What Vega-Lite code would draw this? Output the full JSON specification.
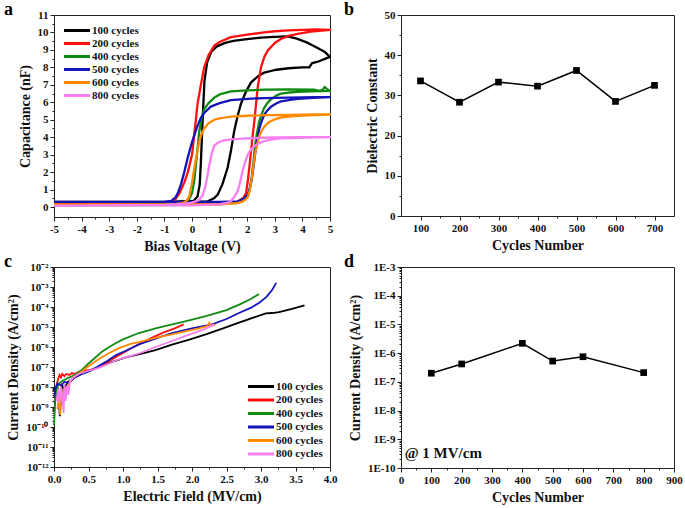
{
"$schema": "https://vega.github.io/schema/vega-lite/v6.json",
"background": "white",
"padding": {"left": 3, "top": 0, "right": 3, "bottom": 3},
"config": {
  "font": "Liberation Serif",
  "view": {"stroke": "#222", "strokeWidth": 1},
  "axis": {"labelFont": "Liberation Serif", "labelFontWeight": "bold", "labelFontSize": 11, "labelColor": "#111", "titleFont": "Liberation Serif", "titleFontWeight": "bold", "titleFontSize": 14, "titleColor": "#111", "domainColor": "#222", "tickColor": "#222", "grid": false, "labelPadding": 2, "labelFlush": false, "labelOverlap": false, "titlePadding": 5},
  "legend": {"title": null, "labelFont": "Liberation Serif", "labelFontWeight": "bold", "labelFontSize": 11, "labelColor": "#111", "rowPadding": 0, "padding": 0},
  "title": {"anchor": "start", "frame": "group", "offset": -9, "fontSize": 18, "font": "Liberation Serif", "fontWeight": "bold", "baseline": "alphabetic", "color": "#000"}
},
"columns": 2,
"spacing": {"row": 50, "column": 71},
"bounds": "flush",
"resolve": {"scale": {"x": "independent", "y": "independent", "color": "independent"}, "legend": {"color": "independent"}},
"concat": [
{
  "title": {"text": "a", "dx": -50, "dy": 1},
  "width": 276, "height": 202,
  "data": {"values": [
    {"s":"100 cycles","i":1,"v":-5,"c":0.3},{"s":"100 cycles","i":2,"v":-2,"c":0.3},{"s":"100 cycles","i":3,"v":0,"c":0.3},{"s":"100 cycles","i":4,"v":0.57,"c":0.33},{"s":"100 cycles","i":5,"v":0.8,"c":0.5},{"s":"100 cycles","i":6,"v":0.93,"c":0.71},{"s":"100 cycles","i":7,"v":1.1,"c":1.3},{"s":"100 cycles","i":8,"v":1.29,"c":2.25},{"s":"100 cycles","i":9,"v":1.42,"c":3.3},{"s":"100 cycles","i":10,"v":1.53,"c":4.36},{"s":"100 cycles","i":11,"v":1.65,"c":5.2},{"s":"100 cycles","i":12,"v":1.77,"c":5.9},{"s":"100 cycles","i":13,"v":1.95,"c":6.6},{"s":"100 cycles","i":14,"v":2.14,"c":7.14},{"s":"100 cycles","i":15,"v":2.4,"c":7.5},{"s":"100 cycles","i":16,"v":2.62,"c":7.7},{"s":"100 cycles","i":17,"v":3.0,"c":7.85},{"s":"100 cycles","i":18,"v":3.5,"c":7.95},{"s":"100 cycles","i":19,"v":4.0,"c":8.0},{"s":"100 cycles","i":20,"v":4.25,"c":8.0},{"s":"100 cycles","i":21,"v":4.35,"c":8.25},{"s":"100 cycles","i":22,"v":4.6,"c":8.35},{"s":"100 cycles","i":23,"v":5.0,"c":8.6},
    {"s":"100 cycles","i":24,"v":4.8,"c":8.9},{"s":"100 cycles","i":25,"v":4.5,"c":9.15},{"s":"100 cycles","i":26,"v":4.2,"c":9.4},{"s":"100 cycles","i":27,"v":3.8,"c":9.65},{"s":"100 cycles","i":28,"v":3.47,"c":9.77},{"s":"100 cycles","i":29,"v":3.0,"c":9.75},{"s":"100 cycles","i":30,"v":2.5,"c":9.7},{"s":"100 cycles","i":31,"v":2.0,"c":9.62},{"s":"100 cycles","i":32,"v":1.5,"c":9.52},{"s":"100 cycles","i":33,"v":1.2,"c":9.4},{"s":"100 cycles","i":34,"v":0.9,"c":9.2},{"s":"100 cycles","i":35,"v":0.7,"c":8.9},{"s":"100 cycles","i":36,"v":0.55,"c":8.3},{"s":"100 cycles","i":37,"v":0.45,"c":7.2},{"s":"100 cycles","i":38,"v":0.4,"c":5.5},{"s":"100 cycles","i":39,"v":0.36,"c":4.0},{"s":"100 cycles","i":40,"v":0.32,"c":2.5},{"s":"100 cycles","i":41,"v":0.28,"c":1.3},{"s":"100 cycles","i":42,"v":0.2,"c":0.6},{"s":"100 cycles","i":43,"v":0.05,"c":0.35},{"s":"100 cycles","i":44,"v":-1,"c":0.3},{"s":"100 cycles","i":45,"v":-5,"c":0.3},

    {"s":"200 cycles","i":1,"v":-5,"c":0.2},{"s":"200 cycles","i":2,"v":0,"c":0.2},{"s":"200 cycles","i":3,"v":1.0,"c":0.2},{"s":"200 cycles","i":4,"v":1.65,"c":0.3},{"s":"200 cycles","i":5,"v":1.85,"c":0.5},{"s":"200 cycles","i":6,"v":1.96,"c":0.8},{"s":"200 cycles","i":7,"v":2.03,"c":1.6},{"s":"200 cycles","i":8,"v":2.08,"c":2.3},{"s":"200 cycles","i":9,"v":2.14,"c":3.2},{"s":"200 cycles","i":10,"v":2.2,"c":4.1},{"s":"200 cycles","i":11,"v":2.26,"c":4.93},{"s":"200 cycles","i":12,"v":2.32,"c":5.9},{"s":"200 cycles","i":13,"v":2.38,"c":6.85},{"s":"200 cycles","i":14,"v":2.5,"c":8.0},{"s":"200 cycles","i":15,"v":2.62,"c":8.6},{"s":"200 cycles","i":16,"v":2.74,"c":8.96},{"s":"200 cycles","i":17,"v":3.0,"c":9.4},{"s":"200 cycles","i":18,"v":3.22,"c":9.63},{"s":"200 cycles","i":19,"v":3.5,"c":9.8},{"s":"200 cycles","i":20,"v":3.83,"c":9.92},{"s":"200 cycles","i":21,"v":4.3,"c":10.05},{"s":"200 cycles","i":22,"v":5.0,"c":10.15},
    {"s":"200 cycles","i":23,"v":4.5,"c":10.17},{"s":"200 cycles","i":24,"v":4.0,"c":10.15},{"s":"200 cycles","i":25,"v":3.5,"c":10.12},{"s":"200 cycles","i":26,"v":3.0,"c":10.07},{"s":"200 cycles","i":27,"v":2.62,"c":10.0},{"s":"200 cycles","i":28,"v":2.0,"c":9.88},{"s":"200 cycles","i":29,"v":1.41,"c":9.73},{"s":"200 cycles","i":30,"v":1.0,"c":9.45},{"s":"200 cycles","i":31,"v":0.81,"c":9.25},{"s":"200 cycles","i":32,"v":0.6,"c":8.7},{"s":"200 cycles","i":33,"v":0.44,"c":8.0},{"s":"200 cycles","i":34,"v":0.3,"c":6.8},{"s":"200 cycles","i":35,"v":0.2,"c":5.9},{"s":"200 cycles","i":36,"v":0.1,"c":4.4},{"s":"200 cycles","i":37,"v":0,"c":3.0},{"s":"200 cycles","i":38,"v":-0.15,"c":2.0},{"s":"200 cycles","i":39,"v":-0.28,"c":1.4},{"s":"200 cycles","i":40,"v":-0.45,"c":0.8},{"s":"200 cycles","i":41,"v":-0.6,"c":0.45},{"s":"200 cycles","i":42,"v":-0.75,"c":0.3},{"s":"200 cycles","i":43,"v":-1,"c":0.25},{"s":"200 cycles","i":44,"v":-5,"c":0.2},

    {"s":"400 cycles","i":1,"v":-5,"c":0.1},{"s":"400 cycles","i":2,"v":0,"c":0.12},{"s":"400 cycles","i":3,"v":1.0,"c":0.15},{"s":"400 cycles","i":4,"v":1.65,"c":0.24},{"s":"400 cycles","i":5,"v":1.85,"c":0.35},{"s":"400 cycles","i":6,"v":2.02,"c":0.6},{"s":"400 cycles","i":7,"v":2.1,"c":1.1},{"s":"400 cycles","i":8,"v":2.16,"c":1.67},{"s":"400 cycles","i":9,"v":2.22,"c":2.5},{"s":"400 cycles","i":10,"v":2.28,"c":3.4},{"s":"400 cycles","i":11,"v":2.35,"c":4.2},{"s":"400 cycles","i":12,"v":2.44,"c":4.93},{"s":"400 cycles","i":13,"v":2.53,"c":5.35},{"s":"400 cycles","i":14,"v":2.62,"c":5.7},{"s":"400 cycles","i":15,"v":2.74,"c":5.98},{"s":"400 cycles","i":16,"v":2.86,"c":6.17},{"s":"400 cycles","i":17,"v":3.05,"c":6.38},{"s":"400 cycles","i":18,"v":3.22,"c":6.5},{"s":"400 cycles","i":19,"v":3.5,"c":6.56},{"s":"400 cycles","i":20,"v":3.83,"c":6.6},{"s":"400 cycles","i":21,"v":4.3,"c":6.63},{"s":"400 cycles","i":22,"v":5.0,"c":6.65},
    {"s":"400 cycles","i":23,"v":4.9,"c":6.75},{"s":"400 cycles","i":24,"v":4.8,"c":6.88},{"s":"400 cycles","i":25,"v":4.75,"c":6.72},{"s":"400 cycles","i":26,"v":4.6,"c":6.65},{"s":"400 cycles","i":27,"v":4.43,"c":6.72},{"s":"400 cycles","i":28,"v":3.5,"c":6.74},{"s":"400 cycles","i":29,"v":2.62,"c":6.72},{"s":"400 cycles","i":30,"v":2.0,"c":6.68},{"s":"400 cycles","i":31,"v":1.41,"c":6.62},{"s":"400 cycles","i":32,"v":1.0,"c":6.45},{"s":"400 cycles","i":33,"v":0.81,"c":6.27},{"s":"400 cycles","i":34,"v":0.6,"c":5.95},{"s":"400 cycles","i":35,"v":0.44,"c":5.6},{"s":"400 cycles","i":36,"v":0.35,"c":5.1},{"s":"400 cycles","i":37,"v":0.26,"c":4.3},{"s":"400 cycles","i":38,"v":0.18,"c":3.0},{"s":"400 cycles","i":39,"v":0.08,"c":1.5},{"s":"400 cycles","i":40,"v":0,"c":0.8},{"s":"400 cycles","i":41,"v":-0.1,"c":0.45},{"s":"400 cycles","i":42,"v":-0.25,"c":0.25},{"s":"400 cycles","i":43,"v":-0.5,"c":0.15},{"s":"400 cycles","i":44,"v":-5,"c":0.1},

    {"s":"500 cycles","i":1,"v":-5,"c":0.3},{"s":"500 cycles","i":2,"v":0,"c":0.3},{"s":"500 cycles","i":3,"v":1.0,"c":0.3},{"s":"500 cycles","i":4,"v":1.65,"c":0.33},{"s":"500 cycles","i":5,"v":1.85,"c":0.45},{"s":"500 cycles","i":6,"v":2.02,"c":0.7},{"s":"500 cycles","i":7,"v":2.1,"c":1.1},{"s":"500 cycles","i":8,"v":2.16,"c":1.55},{"s":"500 cycles","i":9,"v":2.22,"c":2.2},{"s":"500 cycles","i":10,"v":2.28,"c":2.95},{"s":"500 cycles","i":11,"v":2.36,"c":3.8},{"s":"500 cycles","i":12,"v":2.44,"c":4.5},{"s":"500 cycles","i":13,"v":2.53,"c":4.95},{"s":"500 cycles","i":14,"v":2.62,"c":5.3},{"s":"500 cycles","i":15,"v":2.74,"c":5.55},{"s":"500 cycles","i":16,"v":2.86,"c":5.74},{"s":"500 cycles","i":17,"v":3.05,"c":5.93},{"s":"500 cycles","i":18,"v":3.22,"c":6.05},{"s":"500 cycles","i":19,"v":3.5,"c":6.13},{"s":"500 cycles","i":20,"v":3.83,"c":6.2},{"s":"500 cycles","i":21,"v":4.4,"c":6.25},{"s":"500 cycles","i":22,"v":5.0,"c":6.3},
    {"s":"500 cycles","i":23,"v":4.5,"c":6.29},{"s":"500 cycles","i":24,"v":3.5,"c":6.27},{"s":"500 cycles","i":25,"v":2.62,"c":6.24},{"s":"500 cycles","i":26,"v":2.0,"c":6.2},{"s":"500 cycles","i":27,"v":1.41,"c":6.12},{"s":"500 cycles","i":28,"v":1.0,"c":5.95},{"s":"500 cycles","i":29,"v":0.68,"c":5.75},{"s":"500 cycles","i":30,"v":0.45,"c":5.4},{"s":"500 cycles","i":31,"v":0.32,"c":5.1},{"s":"500 cycles","i":32,"v":0.2,"c":4.65},{"s":"500 cycles","i":33,"v":0.08,"c":4.1},{"s":"500 cycles","i":34,"v":-0.04,"c":3.5},{"s":"500 cycles","i":35,"v":-0.16,"c":2.8},{"s":"500 cycles","i":36,"v":-0.28,"c":2.0},{"s":"500 cycles","i":37,"v":-0.4,"c":1.3},{"s":"500 cycles","i":38,"v":-0.5,"c":0.85},{"s":"500 cycles","i":39,"v":-0.6,"c":0.55},{"s":"500 cycles","i":40,"v":-0.75,"c":0.35},{"s":"500 cycles","i":41,"v":-1.0,"c":0.3},{"s":"500 cycles","i":42,"v":-5,"c":0.3},

    {"s":"600 cycles","i":1,"v":-5,"c":0.15},{"s":"600 cycles","i":2,"v":0,"c":0.15},{"s":"600 cycles","i":3,"v":1.0,"c":0.16},{"s":"600 cycles","i":4,"v":1.65,"c":0.22},{"s":"600 cycles","i":5,"v":1.85,"c":0.32},{"s":"600 cycles","i":6,"v":2.02,"c":0.55},{"s":"600 cycles","i":7,"v":2.1,"c":1.0},{"s":"600 cycles","i":8,"v":2.16,"c":1.6},{"s":"600 cycles","i":9,"v":2.22,"c":2.3},{"s":"600 cycles","i":10,"v":2.28,"c":3.0},{"s":"600 cycles","i":11,"v":2.36,"c":3.6},{"s":"600 cycles","i":12,"v":2.44,"c":4.07},{"s":"600 cycles","i":13,"v":2.53,"c":4.38},{"s":"600 cycles","i":14,"v":2.62,"c":4.6},{"s":"600 cycles","i":15,"v":2.74,"c":4.8},{"s":"600 cycles","i":16,"v":2.86,"c":4.93},{"s":"600 cycles","i":17,"v":3.05,"c":5.05},{"s":"600 cycles","i":18,"v":3.22,"c":5.12},{"s":"600 cycles","i":19,"v":3.5,"c":5.18},{"s":"600 cycles","i":20,"v":3.83,"c":5.22},{"s":"600 cycles","i":21,"v":4.4,"c":5.27},{"s":"600 cycles","i":22,"v":5.0,"c":5.3},
    {"s":"600 cycles","i":23,"v":4.5,"c":5.3},{"s":"600 cycles","i":24,"v":3.5,"c":5.28},{"s":"600 cycles","i":25,"v":2.62,"c":5.26},{"s":"600 cycles","i":26,"v":2.0,"c":5.23},{"s":"600 cycles","i":27,"v":1.41,"c":5.18},{"s":"600 cycles","i":28,"v":1.0,"c":5.08},{"s":"600 cycles","i":29,"v":0.81,"c":5.0},{"s":"600 cycles","i":30,"v":0.6,"c":4.8},{"s":"600 cycles","i":31,"v":0.44,"c":4.5},{"s":"600 cycles","i":32,"v":0.35,"c":4.2},{"s":"600 cycles","i":33,"v":0.26,"c":3.75},{"s":"600 cycles","i":34,"v":0.16,"c":2.9},{"s":"600 cycles","i":35,"v":0.08,"c":2.2},{"s":"600 cycles","i":36,"v":0,"c":1.4},{"s":"600 cycles","i":37,"v":-0.1,"c":0.6},{"s":"600 cycles","i":38,"v":-0.2,"c":0.35},{"s":"600 cycles","i":39,"v":-0.35,"c":0.22},{"s":"600 cycles","i":40,"v":-0.6,"c":0.17},{"s":"600 cycles","i":41,"v":-5,"c":0.15},

    {"s":"800 cycles","i":1,"v":-5,"c":0.08},{"s":"800 cycles","i":2,"v":0,"c":0.1},{"s":"800 cycles","i":3,"v":1.0,"c":0.15},{"s":"800 cycles","i":4,"v":1.3,"c":0.25},{"s":"800 cycles","i":5,"v":1.41,"c":0.35},{"s":"800 cycles","i":6,"v":1.52,"c":0.55},{"s":"800 cycles","i":7,"v":1.65,"c":0.9},{"s":"800 cycles","i":8,"v":1.74,"c":1.4},{"s":"800 cycles","i":9,"v":1.83,"c":2.05},{"s":"800 cycles","i":10,"v":1.92,"c":2.55},{"s":"800 cycles","i":11,"v":2.02,"c":3.0},{"s":"800 cycles","i":12,"v":2.14,"c":3.3},{"s":"800 cycles","i":13,"v":2.26,"c":3.49},{"s":"800 cycles","i":14,"v":2.44,"c":3.66},{"s":"800 cycles","i":15,"v":2.62,"c":3.78},{"s":"800 cycles","i":16,"v":3.0,"c":3.9},{"s":"800 cycles","i":17,"v":3.22,"c":3.93},{"s":"800 cycles","i":18,"v":3.8,"c":3.97},{"s":"800 cycles","i":19,"v":5.0,"c":4.0},
    {"s":"800 cycles","i":20,"v":4.0,"c":4.0},{"s":"800 cycles","i":21,"v":3.0,"c":3.99},{"s":"800 cycles","i":22,"v":2.62,"c":3.97},{"s":"800 cycles","i":23,"v":2.0,"c":3.93},{"s":"800 cycles","i":24,"v":1.41,"c":3.88},{"s":"800 cycles","i":25,"v":1.1,"c":3.8},{"s":"800 cycles","i":26,"v":0.93,"c":3.68},{"s":"800 cycles","i":27,"v":0.8,"c":3.5},{"s":"800 cycles","i":28,"v":0.72,"c":3.1},{"s":"800 cycles","i":29,"v":0.64,"c":2.5},{"s":"800 cycles","i":30,"v":0.56,"c":1.8},{"s":"800 cycles","i":31,"v":0.48,"c":1.15},{"s":"800 cycles","i":32,"v":0.38,"c":0.65},{"s":"800 cycles","i":33,"v":0.25,"c":0.4},{"s":"800 cycles","i":34,"v":0,"c":0.25},{"s":"800 cycles","i":35,"v":-0.3,"c":0.18},{"s":"800 cycles","i":36,"v":-1,"c":0.12},{"s":"800 cycles","i":37,"v":-5,"c":0.08}
  ]},
  "mark": {"type": "line", "strokeWidth": 2.3, "interpolate": "linear", "strokeJoin": "round"},
  "encoding": {
    "x": {"field": "v", "type": "quantitative", "scale": {"domain": [-5, 5], "nice": false}, "axis": {"title": "Bias Voltage (V)", "labelOverlap": false, "values": [-5,-4.5,-4,-3.5,-3,-2.5,-2,-1.5,-1,-0.5,0,0.5,1,1.5,2,2.5,3,3.5,4,4.5,5], "labelExpr": "datum.value % 1 != 0 ? '' : '' + datum.value", "tickSize": {"condition": {"test": "datum.value % 1 != 0", "value": 2}, "value": 4}}},
    "y": {"field": "c", "type": "quantitative", "scale": {"domain": [-0.57, 11], "nice": false, "zero": false}, "axis": {"title": "Capacitance (nF)", "labelOverlap": false, "values": [0,0.5,1,1.5,2,2.5,3,3.5,4,4.5,5,5.5,6,6.5,7,7.5,8,8.5,9,9.5,10,10.5,11], "labelExpr": "datum.value % 1 != 0 ? '' : '' + datum.value", "tickSize": {"condition": {"test": "datum.value % 1 != 0", "value": 2}, "value": 4}}},
    "color": {"field": "s", "type": "nominal", "scale": {"domain": ["100 cycles","200 cycles","400 cycles","500 cycles","600 cycles","800 cycles"], "range": ["#000000","#ff1010","#118a11","#1414b8","#ff8a00","#f77ff0"]}, "legend": {"orient": "top-left", "offset": 9, "symbolType": "M-1.1,0H4.1", "symbolSize": 100, "symbolStrokeWidth": 3, "labelOffset": 16}},
    "order": {"field": "i", "type": "quantitative"}
  }
},
{
  "title": {"text": "b", "dx": -57, "dy": 1},
  "width": 273, "height": 201,
  "data": {"values": [{"n":100,"k":33.6},{"n":200,"k":28.3},{"n":300,"k":33.3},{"n":400,"k":32.3},{"n":500,"k":36.2},{"n":600,"k":28.5},{"n":700,"k":32.5}]},
  "encoding": {
    "x": {"field": "n", "type": "quantitative", "scale": {"domain": [50, 750], "nice": false, "zero": false}, "axis": {"title": "Cycles Number", "labelOverlap": false, "values": [100,150,200,250,300,350,400,450,500,550,600,650,700], "labelExpr": "datum.value % 100 != 0 ? '' : '' + datum.value", "tickSize": {"condition": {"test": "datum.value % 100 != 0", "value": 2}, "value": 4}}},
    "y": {"field": "k", "type": "quantitative", "scale": {"domain": [0, 50], "nice": false}, "axis": {"title": "Dielectric Constant", "labelOverlap": false, "values": [0,5,10,15,20,25,30,35,40,45,50], "labelExpr": "datum.value % 10 != 0 ? '' : '' + datum.value", "tickSize": {"condition": {"test": "datum.value % 10 != 0", "value": 2}, "value": 4}}}
  },
  "layer": [
    {"mark": {"type": "line", "color": "#000", "strokeWidth": 1.5}},
    {"mark": {"type": "point", "shape": "square", "filled": true, "color": "#000", "size": 45, "opacity": 1}}
  ]
},
{
  "title": {"text": "c", "dx": -50, "dy": 1},
  "width": 276, "height": 200,
  "data": {"values": [
    {"s":"100 cycles","e":0.01,"j":1.5e-9},{"s":"100 cycles","e":0.03,"j":6e-9},{"s":"100 cycles","e":0.05,"j":1e-8},{"s":"100 cycles","e":0.07,"j":2e-9},{"s":"100 cycles","e":0.085,"j":3.5e-10},{"s":"100 cycles","e":0.1,"j":3e-9},{"s":"100 cycles","e":0.12,"j":1.2e-8},{"s":"100 cycles","e":0.15,"j":8e-9},{"s":"100 cycles","e":0.2,"j":1.8e-8},{"s":"100 cycles","e":0.3,"j":3e-8},{"s":"100 cycles","e":0.4,"j":4.5e-8},{"s":"100 cycles","e":0.5,"j":6e-8},{"s":"100 cycles","e":0.65,"j":1e-7},{"s":"100 cycles","e":0.8,"j":1.6e-7},{"s":"100 cycles","e":1.04,"j":3e-7},{"s":"100 cycles","e":1.33,"j":5.2e-7},{"s":"100 cycles","e":1.47,"j":7e-7},{"s":"100 cycles","e":1.71,"j":1.3e-6},{"s":"100 cycles","e":1.95,"j":2.3e-6},{"s":"100 cycles","e":2.2,"j":4.3e-6},{"s":"100 cycles","e":2.45,"j":8.5e-6},{"s":"100 cycles","e":2.68,"j":1.65e-5},{"s":"100 cycles","e":2.9,"j":3e-5},{"s":"100 cycles","e":3.07,"j":4.8e-5},{"s":"100 cycles","e":3.16,"j":5e-5},{"s":"100 cycles","e":3.26,"j":5.5e-5},{"s":"100 cycles","e":3.45,"j":8e-5},{"s":"100 cycles","e":3.63,"j":1.2e-4},
    {"s":"200 cycles","e":0.01,"j":2e-9},{"s":"200 cycles","e":0.03,"j":1e-8},{"s":"200 cycles","e":0.06,"j":2.5e-8},{"s":"200 cycles","e":0.08,"j":4e-8},{"s":"200 cycles","e":0.1,"j":3e-8},{"s":"200 cycles","e":0.12,"j":4.5e-8},{"s":"200 cycles","e":0.15,"j":3.5e-8},{"s":"200 cycles","e":0.18,"j":4.5e-8},{"s":"200 cycles","e":0.22,"j":4e-8},{"s":"200 cycles","e":0.26,"j":5e-8},{"s":"200 cycles","e":0.3,"j":4.5e-8},{"s":"200 cycles","e":0.35,"j":5.5e-8},{"s":"200 cycles","e":0.4,"j":6e-8},{"s":"200 cycles","e":0.5,"j":7e-8},{"s":"200 cycles","e":0.6,"j":8e-8},{"s":"200 cycles","e":0.7,"j":1.2e-7},{"s":"200 cycles","e":0.8,"j":2e-7},{"s":"200 cycles","e":0.9,"j":3.2e-7},{"s":"200 cycles","e":1.0,"j":5e-7},{"s":"200 cycles","e":1.1,"j":8e-7},{"s":"200 cycles","e":1.23,"j":1.35e-6},{"s":"200 cycles","e":1.35,"j":2.2e-6},{"s":"200 cycles","e":1.47,"j":3.5e-6},{"s":"200 cycles","e":1.6,"j":5.5e-6},{"s":"200 cycles","e":1.75,"j":8.5e-6},{"s":"200 cycles","e":1.88,"j":1.35e-5},
    {"s":"400 cycles","e":0.0,"j":1.2e-10},{"s":"400 cycles","e":0.01,"j":5e-10},{"s":"400 cycles","e":0.02,"j":3e-9},{"s":"400 cycles","e":0.04,"j":8e-9},{"s":"400 cycles","e":0.07,"j":1.5e-8},{"s":"400 cycles","e":0.12,"j":2e-8},{"s":"400 cycles","e":0.2,"j":2.8e-8},{"s":"400 cycles","e":0.3,"j":4e-8},{"s":"400 cycles","e":0.4,"j":7e-8},{"s":"400 cycles","e":0.5,"j":1.5e-7},{"s":"400 cycles","e":0.6,"j":3e-7},{"s":"400 cycles","e":0.7,"j":6e-7},{"s":"400 cycles","e":0.8,"j":1e-6},{"s":"400 cycles","e":0.9,"j":1.6e-6},{"s":"400 cycles","e":1.0,"j":2.4e-6},{"s":"400 cycles","e":1.23,"j":5e-6},{"s":"400 cycles","e":1.5,"j":9e-6},{"s":"400 cycles","e":1.7,"j":1.3e-5},{"s":"400 cycles","e":1.9,"j":1.9e-5},{"s":"400 cycles","e":2.2,"j":3.5e-5},{"s":"400 cycles","e":2.5,"j":7e-5},{"s":"400 cycles","e":2.7,"j":1.4e-4},{"s":"400 cycles","e":2.85,"j":2.5e-4},{"s":"400 cycles","e":2.97,"j":4.4e-4},
    {"s":"500 cycles","e":0.005,"j":3e-9},{"s":"500 cycles","e":0.02,"j":8e-9},{"s":"500 cycles","e":0.05,"j":1.5e-8},{"s":"500 cycles","e":0.1,"j":1.2e-8},{"s":"500 cycles","e":0.15,"j":1.8e-8},{"s":"500 cycles","e":0.22,"j":1.6e-8},{"s":"500 cycles","e":0.3,"j":3e-8},{"s":"500 cycles","e":0.4,"j":4.5e-8},{"s":"500 cycles","e":0.5,"j":6e-8},{"s":"500 cycles","e":0.6,"j":9e-8},{"s":"500 cycles","e":0.75,"j":1.8e-7},{"s":"500 cycles","e":0.9,"j":4e-7},{"s":"500 cycles","e":1.04,"j":6.5e-7},{"s":"500 cycles","e":1.23,"j":1.35e-6},{"s":"500 cycles","e":1.45,"j":2.5e-6},{"s":"500 cycles","e":1.71,"j":5e-6},{"s":"500 cycles","e":2.0,"j":8.5e-6},{"s":"500 cycles","e":2.29,"j":1.35e-5},{"s":"500 cycles","e":2.5,"j":2.5e-5},{"s":"500 cycles","e":2.68,"j":5e-5},{"s":"500 cycles","e":2.85,"j":9e-5},{"s":"500 cycles","e":2.97,"j":1.6e-4},{"s":"500 cycles","e":3.08,"j":3.2e-4},{"s":"500 cycles","e":3.16,"j":7e-4},{"s":"500 cycles","e":3.22,"j":1.6e-3},
    {"s":"600 cycles","e":0.05,"j":8e-10},{"s":"600 cycles","e":0.07,"j":3e-9},{"s":"600 cycles","e":0.09,"j":4e-10},{"s":"600 cycles","e":0.1,"j":5e-9},{"s":"600 cycles","e":0.12,"j":2e-9},{"s":"600 cycles","e":0.14,"j":8e-9},{"s":"600 cycles","e":0.16,"j":3e-9},{"s":"600 cycles","e":0.18,"j":1e-8},{"s":"600 cycles","e":0.2,"j":5e-9},{"s":"600 cycles","e":0.22,"j":1.5e-8},{"s":"600 cycles","e":0.26,"j":2.5e-8},{"s":"600 cycles","e":0.3,"j":3.5e-8},{"s":"600 cycles","e":0.4,"j":6e-8},{"s":"600 cycles","e":0.5,"j":1.1e-7},{"s":"600 cycles","e":0.65,"j":2.5e-7},{"s":"600 cycles","e":0.8,"j":5e-7},{"s":"600 cycles","e":0.95,"j":9e-7},{"s":"600 cycles","e":1.1,"j":1.4e-6},{"s":"600 cycles","e":1.3,"j":2e-6},{"s":"600 cycles","e":1.5,"j":3e-6},{"s":"600 cycles","e":1.71,"j":4.3e-6},{"s":"600 cycles","e":1.9,"j":6e-6},{"s":"600 cycles","e":2.1,"j":8.5e-6},{"s":"600 cycles","e":2.22,"j":1.1e-5},{"s":"600 cycles","e":2.25,"j":1.6e-5},{"s":"600 cycles","e":2.27,"j":1.1e-5},{"s":"600 cycles","e":2.34,"j":1.35e-5},
    {"s":"800 cycles","e":0.04,"j":2e-9},{"s":"800 cycles","e":0.06,"j":8e-9},{"s":"800 cycles","e":0.08,"j":1.5e-9},{"s":"800 cycles","e":0.1,"j":1e-8},{"s":"800 cycles","e":0.12,"j":3e-9},{"s":"800 cycles","e":0.14,"j":5e-10},{"s":"800 cycles","e":0.15,"j":1.5e-8},{"s":"800 cycles","e":0.17,"j":2e-9},{"s":"800 cycles","e":0.19,"j":1.2e-8},{"s":"800 cycles","e":0.21,"j":4e-9},{"s":"800 cycles","e":0.23,"j":2e-8},{"s":"800 cycles","e":0.28,"j":3e-8},{"s":"800 cycles","e":0.36,"j":4.5e-8},{"s":"800 cycles","e":0.5,"j":6.5e-8},{"s":"800 cycles","e":0.65,"j":9e-8},{"s":"800 cycles","e":0.8,"j":1.5e-7},{"s":"800 cycles","e":0.95,"j":2.5e-7},{"s":"800 cycles","e":1.1,"j":3.5e-7},{"s":"800 cycles","e":1.25,"j":5e-7},{"s":"800 cycles","e":1.47,"j":1e-6},{"s":"800 cycles","e":1.71,"j":2e-6},{"s":"800 cycles","e":1.95,"j":4e-6},{"s":"800 cycles","e":2.2,"j":8.3e-6},{"s":"800 cycles","e":2.32,"j":1.35e-5}
  ]},
  "mark": {"type": "line", "strokeWidth": 1.8, "interpolate": "linear"},
  "encoding": {
    "x": {"field": "e", "type": "quantitative", "scale": {"domain": [0, 4], "nice": false}, "axis": {"title": "Electric Field (MV/cm)", "labelOverlap": false, "values": [0,0.25,0.5,0.75,1,1.25,1.5,1.75,2,2.25,2.5,2.75,3,3.25,3.5,3.75,4], "labelExpr": "datum.value % 0.5 != 0 ? '' : format(datum.value, '.1f')", "tickSize": {"condition": {"test": "datum.value % 0.5 != 0", "value": 2}, "value": 4}}},
    "y": {"field": "j", "type": "quantitative", "scale": {"type": "log", "domain": [1e-12, 1e-2], "nice": false}, "axis": {"title": "Current Density (A/cm²)", "labelOverlap": false, "values": [1e-12,2e-12,3e-12,4e-12,5e-12,6e-12,7e-12,8e-12,9e-12,1e-11,2e-11,3e-11,4e-11,5e-11,6e-11,7e-11,8e-11,9e-11,1e-10,2e-10,3e-10,4e-10,5e-10,6e-10,7e-10,8e-10,9e-10,1e-9,2e-9,3e-9,4e-9,5e-9,6e-9,7e-9,8e-9,9e-9,1e-8,2e-8,3e-8,4e-8,5e-8,6e-8,7e-8,8e-8,9e-8,1e-7,2e-7,3e-7,4e-7,5e-7,6e-7,7e-7,8e-7,9e-7,1e-6,2e-6,3e-6,4e-6,5e-6,6e-6,7e-6,8e-6,9e-6,1e-5,2e-5,3e-5,4e-5,5e-5,6e-5,7e-5,8e-5,9e-5,1e-4,2e-4,3e-4,4e-4,5e-4,6e-4,7e-4,8e-4,9e-4,1e-3,2e-3,3e-3,4e-3,5e-3,6e-3,7e-3,8e-3,9e-3,1e-2],
      "labelExpr": "abs(log(datum.value)/LN10 - round(log(datum.value)/LN10)) > 0.001 ? '' : '10' + replace(replace(replace(replace(replace(replace(replace(replace(replace(replace(replace('' + round(log(datum.value)/LN10), '-', '⁻'), regexp('1','g'), '¹'), '2', '²'), '3', '³'), '4', '⁴'), '5', '⁵'), '6', '⁶'), '7', '⁷'), '8', '⁸'), '9', '⁹'), '0', '⁰')",
      "tickSize": {"condition": {"test": "abs(log(datum.value)/LN10 - round(log(datum.value)/LN10)) > 0.001", "value": 2}, "value": 4}}},
    "color": {"field": "s", "type": "nominal", "scale": {"domain": ["100 cycles","200 cycles","400 cycles","500 cycles","600 cycles","800 cycles"], "range": ["#000000","#ff1010","#118a11","#1414b8","#ff8a00","#f77ff0"]}, "legend": {"orient": "bottom-right", "offset": 7, "rowPadding": 0.5, "symbolType": "M-1.1,0H4.1", "symbolSize": 100, "symbolStrokeWidth": 3, "labelOffset": 16}}
  }
},
{
  "title": {"text": "d", "dx": -57, "dy": 1},
  "width": 273, "height": 201,
  "layer": [
    {
      "data": {"values": [{"n":100,"j":2e-7},{"n":200,"j":4.2e-7},{"n":400,"j":2.2e-6},{"n":500,"j":5.3e-7},{"n":600,"j":7.5e-7},{"n":800,"j":2.1e-7}]},
      "encoding": {
        "x": {"field": "n", "type": "quantitative", "scale": {"domain": [0, 900], "nice": false}, "axis": {"title": "Cycles Number", "labelOverlap": false, "values": [0,50,100,150,200,250,300,350,400,450,500,550,600,650,700,750,800,850,900], "labelExpr": "datum.value % 100 != 0 ? '' : '' + datum.value", "tickSize": {"condition": {"test": "datum.value % 100 != 0", "value": 2}, "value": 4}}},
        "y": {"field": "j", "type": "quantitative", "scale": {"type": "log", "domain": [1e-10, 1e-3], "nice": false}, "axis": {"title": "Current Density (A/cm²)", "labelOverlap": false, "values": [1e-10,2e-10,3e-10,4e-10,5e-10,6e-10,7e-10,8e-10,9e-10,1e-9,2e-9,3e-9,4e-9,5e-9,6e-9,7e-9,8e-9,9e-9,1e-8,2e-8,3e-8,4e-8,5e-8,6e-8,7e-8,8e-8,9e-8,1e-7,2e-7,3e-7,4e-7,5e-7,6e-7,7e-7,8e-7,9e-7,1e-6,2e-6,3e-6,4e-6,5e-6,6e-6,7e-6,8e-6,9e-6,1e-5,2e-5,3e-5,4e-5,5e-5,6e-5,7e-5,8e-5,9e-5,1e-4,2e-4,3e-4,4e-4,5e-4,6e-4,7e-4,8e-4,9e-4,1e-3],
          "labelExpr": "abs(log(datum.value)/LN10 - round(log(datum.value)/LN10)) > 0.001 ? '' : '1E' + round(log(datum.value)/LN10)",
          "tickSize": {"condition": {"test": "abs(log(datum.value)/LN10 - round(log(datum.value)/LN10)) > 0.001", "value": 2}, "value": 4}}}
      },
      "layer": [
        {"mark": {"type": "line", "color": "#000", "strokeWidth": 1.5}},
        {"mark": {"type": "point", "shape": "square", "filled": true, "color": "#000", "size": 45, "opacity": 1}}
      ]
    },
    {
      "data": {"values": [{"label": "@ 1 MV/cm"}]},
      "mark": {"type": "text", "align": "left", "baseline": "middle", "fontSize": 15, "fontWeight": "bold", "font": "Liberation Serif", "color": "#111"},
      "encoding": {
        "x": {"datum": 12, "type": "quantitative", "axis": {"title": "Cycles Number", "labelOverlap": false, "values": [0,50,100,150,200,250,300,350,400,450,500,550,600,650,700,750,800,850,900], "labelExpr": "datum.value % 100 != 0 ? '' : '' + datum.value", "tickSize": {"condition": {"test": "datum.value % 100 != 0", "value": 2}, "value": 4}}},
        "y": {"datum": 3.3e-10, "type": "quantitative", "axis": {"title": "Current Density (A/cm²)", "labelOverlap": false, "values": [1e-10,2e-10,3e-10,4e-10,5e-10,6e-10,7e-10,8e-10,9e-10,1e-9,2e-9,3e-9,4e-9,5e-9,6e-9,7e-9,8e-9,9e-9,1e-8,2e-8,3e-8,4e-8,5e-8,6e-8,7e-8,8e-8,9e-8,1e-7,2e-7,3e-7,4e-7,5e-7,6e-7,7e-7,8e-7,9e-7,1e-6,2e-6,3e-6,4e-6,5e-6,6e-6,7e-6,8e-6,9e-6,1e-5,2e-5,3e-5,4e-5,5e-5,6e-5,7e-5,8e-5,9e-5,1e-4,2e-4,3e-4,4e-4,5e-4,6e-4,7e-4,8e-4,9e-4,1e-3],
          "labelExpr": "abs(log(datum.value)/LN10 - round(log(datum.value)/LN10)) > 0.001 ? '' : '1E' + round(log(datum.value)/LN10)",
          "tickSize": {"condition": {"test": "abs(log(datum.value)/LN10 - round(log(datum.value)/LN10)) > 0.001", "value": 2}, "value": 4}}},
        "text": {"field": "label"}
      }
    }
  ]
}
]
}
